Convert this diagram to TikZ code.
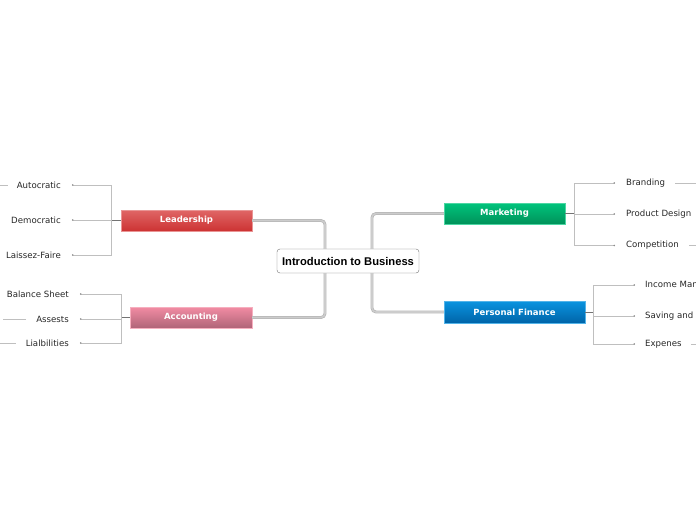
\documentclass[tikz,border=0pt]{standalone}
\usepackage{fontspec}
\setmainfont{DejaVu Sans}
\newfontfamily\centralfont{Liberation Sans}
\usetikzlibrary{arrows.meta}
\definecolor{leadTop}{HTML}{E06666}
\definecolor{leadBot}{HTML}{CC3333}
\definecolor{acctTop}{HTML}{F28CA3}
\definecolor{acctBot}{HTML}{B06478}
\definecolor{mktTop}{HTML}{00C47C}
\definecolor{mktBot}{HTML}{00925A}
\definecolor{pfTop}{HTML}{0A94E0}
\definecolor{pfBot}{HTML}{0064A8}
\begin{document}
\begin{tikzpicture}[x=1pt,y=-1pt,
  leaf/.style={font=\fontsize{8.6}{10}\selectfont, text=black!85, inner xsep=11pt, inner ysep=2pt},
  branchbox/.style={minimum height=21pt, inner sep=0pt, font=\bfseries\fontsize{8.5}{10}\selectfont, text=white, line width=0.4pt},
  centralbox/.style={draw=black!55, rounded corners=3pt, fill=white, minimum width=142pt, minimum height=24pt, inner sep=0pt, font=\centralfont\bfseries\fontsize{11.2}{13}\selectfont},
  mainline/.style={draw=black!30, line width=0.6pt, double=black!20, double distance=1.6pt, rounded corners=4pt},
  stem/.style={draw=black!55, line width=0.7pt},
  leafline/.style={draw=black!25, line width=0.7pt},
  leafend/.style={leafline, -{Circle[length=1.4pt, fill=black!45, color=black!45]}}
]
\useasboundingbox (0,0) rectangle (696,520);
\clip (0,0) rectangle (696,520);

% central
\node[centralbox] (central) at (348,261) {Introduction to Business};

% branches
\node[branchbox, minimum width=131pt, top color=leadTop, bottom color=leadBot, draw=leadTop!70!white] (lead) at (186.5,220.5) {Leadership};
\node[branchbox, minimum width=122pt, top color=acctTop, bottom color=acctBot, draw=acctTop!70!white] (acct) at (191,317.5) {Accounting};
\node[branchbox, minimum width=121pt, top color=mktTop, bottom color=mktBot, draw=mktTop!70!white] (mkt) at (504.5,213.5) {Marketing};
\node[branchbox, minimum width=141pt, minimum height=22pt, top color=pfTop, bottom color=pfBot, draw=pfTop!70!white] (pf) at (514.5,312) {Personal Finance};

% main connectors
\draw[mainline] (lead.east) -| ([xshift=-23pt]central.north);
\draw[mainline] (acct.east) -| ([xshift=-23pt]central.south);
\draw[mainline] (mkt.west) -| ([xshift=24pt]central.north);
\draw[mainline] (pf.west) -| ([xshift=24pt]central.south);

% leaves: Leadership
\node[leaf, anchor=east] (auto) at (72,185) {Autocratic};
\node[leaf, anchor=east] (demo) at (72,220) {Democratic};
\node[leaf, anchor=east] (laissez) at (72,255) {Laissez-Faire};
\draw[stem] (lead.west) -- ++(-9,0) coordinate (lb);
\draw[leafend] (lb) |- (auto.east);
\draw[leafend] (lb) |- (demo.east);
\draw[leafend] (lb) |- (laissez.east);
\draw[leafline] ([xshift=2pt]auto.west) -- ++(-30,0);

% leaves: Accounting
\node[leaf, anchor=east] (bal) at (80,294) {Balance Sheet};
\node[leaf, anchor=east] (assets) at (80,319) {Assests};
\node[leaf, anchor=east] (liab) at (80,343) {Lialbilities};
\draw[stem] (acct.west) -- ++(-8,0) coordinate (ab);
\draw[leafend] (ab) |- (bal.east);
\draw[leafend] (ab) |- (assets.east);
\draw[leafend] (ab) |- (liab.east);
\draw[leafline] ([xshift=1pt]assets.west) -- ++(-23,0);
\draw[leafline] ([xshift=1pt]liab.west) -- ++(-30,0);

% leaves: Marketing
\node[leaf, anchor=west] (brand) at (615,183) {Branding};
\node[leaf, anchor=west] (prod) at (615,214) {Product Design};
\node[leaf, anchor=west] (comp) at (615,245.5) {Competition};
\draw[stem] (mkt.east) -- ++(9,0) coordinate (mb);
\draw[leafend] (mb) |- (brand.west);
\draw[leafend] (mb) |- (prod.west);
\draw[leafend] (mb) |- (comp.west);
\draw[leafline] ([xshift=-1pt]brand.east) -- ++(30,0);
\draw[leafline] ([xshift=-1pt]comp.east) -- ++(30,0);

% leaves: Personal Finance
\node[leaf, anchor=west, inner xsep=10pt] (income) at (635,285) {Income Management};
\node[leaf, anchor=west, inner xsep=10pt] (saving) at (635,316) {Saving and Investing};
\node[leaf, anchor=west, inner xsep=10pt] (exp) at (635,344) {Expenes};
\draw[stem] (pf.east) -- ++(8,0) coordinate (pb);
\draw[leafend] (pb) |- (income.west);
\draw[leafend] (pb) |- (saving.west);
\draw[leafend] (pb) |- (exp.west);
\draw[leafline] ([xshift=-1pt]exp.east) -- ++(30,0);
\end{tikzpicture}
\end{document}
